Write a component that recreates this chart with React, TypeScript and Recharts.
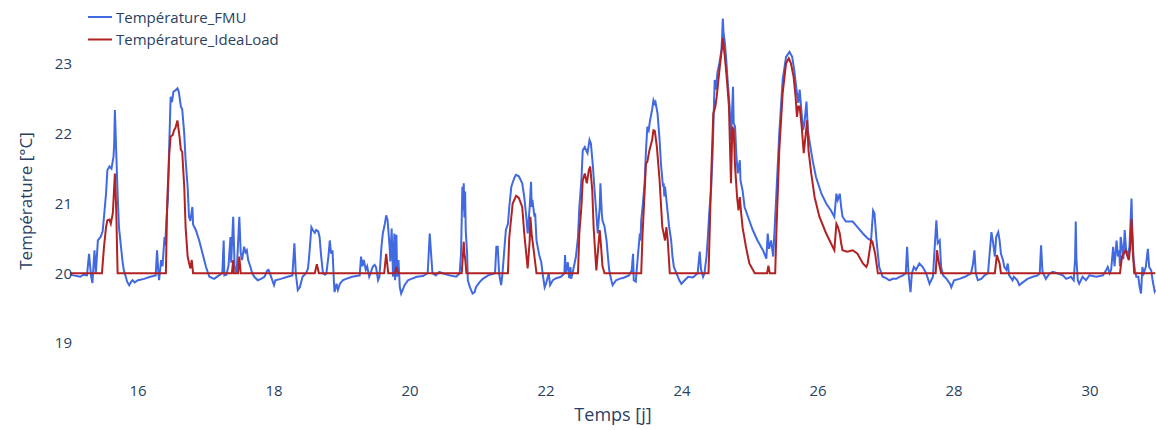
import { LineChart, Line, XAxis, YAxis } from 'recharts';

// Température simulée (FMU) : [jour, °C]
const fmuPoints: [number, number][] = [
  [15.0, 19.98], [15.05, 19.97], [15.1, 19.96], [15.15, 19.95], [15.2, 19.98], [15.25, 19.97], [15.28, 20.28],
  [15.31, 19.96], [15.33, 19.86], [15.36, 20.33], [15.38, 20.0], [15.41, 20.47], [15.45, 20.52], [15.48, 20.6],
  [15.5, 20.81], [15.53, 21.14], [15.55, 21.48], [15.58, 21.53], [15.61, 21.5], [15.64, 21.67], [15.65, 21.86],
  [15.66, 22.34], [15.68, 21.73], [15.7, 21.14], [15.72, 20.66], [15.75, 20.38], [15.77, 20.19], [15.79, 20.05],
  [15.82, 19.95], [15.84, 19.88], [15.87, 19.83], [15.9, 19.88], [15.92, 19.9], [15.95, 19.87], [16.0, 19.9],
  [16.09, 19.92], [16.18, 19.95], [16.26, 19.97], [16.28, 20.33], [16.3, 20.0], [16.31, 19.9], [16.34, 20.19],
  [16.36, 20.1], [16.39, 20.52], [16.4, 20.4], [16.42, 20.81], [16.44, 21.05], [16.46, 21.86], [16.48, 22.53],
  [16.5, 22.45], [16.52, 22.6], [16.55, 22.62], [16.58, 22.65], [16.6, 22.6], [16.63, 22.39], [16.65, 22.35],
  [16.68, 22.0], [16.7, 21.62], [16.73, 21.24], [16.75, 20.81], [16.77, 20.75], [16.8, 20.95], [16.81, 20.7],
  [16.85, 20.62], [16.9, 20.47], [16.95, 20.28], [17.0, 20.09], [17.05, 19.95], [17.12, 19.92], [17.19, 19.97],
  [17.24, 20.0], [17.26, 20.47], [17.27, 19.97], [17.3, 19.98], [17.33, 20.1], [17.36, 20.52], [17.37, 20.15],
  [17.4, 20.81], [17.42, 20.1], [17.45, 20.0], [17.49, 20.81], [17.51, 20.3], [17.53, 20.19], [17.56, 20.38],
  [17.58, 20.3], [17.6, 20.33], [17.62, 20.19], [17.65, 20.1], [17.68, 20.0], [17.71, 19.95], [17.76, 19.9],
  [17.81, 19.92], [17.86, 19.95], [17.9, 20.04], [17.92, 20.05], [17.95, 19.97], [18.0, 19.83], [18.02, 19.9],
  [18.1, 19.92], [18.2, 19.95], [18.27, 19.97], [18.3, 20.43], [18.32, 20.0], [18.35, 19.76], [18.38, 19.8],
  [18.42, 19.95], [18.47, 20.0], [18.5, 20.07], [18.52, 20.28], [18.55, 20.66], [18.57, 20.62], [18.6, 20.58],
  [18.62, 20.62], [18.65, 20.6], [18.67, 20.52], [18.69, 20.28], [18.72, 20.0], [18.75, 19.98], [18.77, 20.0],
  [18.8, 20.24], [18.82, 20.47], [18.84, 20.28], [18.86, 20.33], [18.88, 19.9], [18.89, 19.73], [18.92, 19.85],
  [18.94, 19.76], [18.97, 19.85], [19.01, 19.9], [19.06, 19.92], [19.15, 19.95], [19.26, 19.97], [19.28, 20.24],
  [19.3, 20.1], [19.32, 20.19], [19.35, 20.05], [19.37, 20.1], [19.4, 19.95], [19.42, 20.0], [19.45, 20.09],
  [19.48, 20.12], [19.5, 20.09], [19.53, 19.9], [19.55, 19.95], [19.58, 20.38], [19.6, 20.57], [19.63, 20.71],
  [19.65, 20.83], [19.67, 20.76], [19.7, 20.38], [19.71, 20.17], [19.73, 20.64], [19.75, 19.95], [19.77, 20.57],
  [19.78, 19.9], [19.8, 20.55], [19.81, 19.95], [19.83, 20.19], [19.85, 19.8], [19.87, 19.71], [19.92, 19.83],
  [19.97, 19.9], [20.02, 19.92], [20.1, 19.95], [20.19, 19.96], [20.26, 20.0], [20.29, 20.57], [20.31, 20.28],
  [20.33, 20.0], [20.38, 19.97], [20.43, 20.02], [20.48, 20.0], [20.58, 19.97], [20.68, 19.95], [20.73, 20.0],
  [20.75, 20.28], [20.77, 21.24], [20.78, 20.9], [20.79, 21.29], [20.8, 20.8], [20.81, 21.17], [20.82, 20.6],
  [20.84, 20.28], [20.85, 19.9], [20.88, 19.8], [20.92, 19.71], [20.95, 19.73], [20.97, 19.8], [21.02, 19.87],
  [21.07, 19.92], [21.15, 19.97], [21.25, 20.0], [21.27, 20.38], [21.29, 20.38], [21.31, 20.0], [21.34, 19.83],
  [21.36, 20.0], [21.39, 20.38], [21.41, 20.62], [21.44, 20.71], [21.46, 20.95], [21.49, 21.24], [21.51, 21.3],
  [21.54, 21.38], [21.56, 21.41], [21.6, 21.39], [21.65, 21.29], [21.68, 21.09], [21.71, 20.81], [21.73, 20.57],
  [21.76, 20.95], [21.78, 21.31], [21.79, 20.95], [21.8, 21.05], [21.83, 20.81], [21.84, 20.86], [21.86, 20.47],
  [21.9, 20.26], [21.93, 20.16], [21.95, 20.0], [21.98, 19.8], [22.0, 19.85], [22.04, 20.0], [22.06, 19.83],
  [22.1, 19.9], [22.15, 19.93], [22.22, 19.95], [22.27, 20.0], [22.28, 20.26], [22.29, 20.0], [22.32, 20.16],
  [22.34, 19.93], [22.36, 20.09], [22.37, 19.92], [22.39, 20.0], [22.44, 20.24], [22.47, 20.52], [22.49, 20.95],
  [22.52, 21.33], [22.54, 21.76], [22.57, 21.81], [22.59, 21.76], [22.61, 21.72], [22.64, 21.91], [22.66, 21.86],
  [22.69, 21.53], [22.71, 21.24], [22.74, 20.86], [22.76, 20.57], [22.79, 20.95], [22.8, 21.29], [22.82, 20.86],
  [22.83, 20.76], [22.86, 20.67], [22.89, 20.47], [22.91, 20.24], [22.93, 20.04], [22.96, 19.9], [22.98, 19.83],
  [23.03, 19.9], [23.08, 19.92], [23.15, 19.94], [23.22, 19.97], [23.26, 20.04], [23.28, 20.28], [23.29, 19.9],
  [23.32, 19.88], [23.35, 20.24], [23.38, 20.57], [23.39, 20.47], [23.4, 20.76], [23.42, 20.95], [23.45, 21.29],
  [23.47, 21.76], [23.49, 22.1], [23.51, 22.05], [23.53, 22.19], [23.56, 22.34], [23.58, 22.48], [23.6, 22.43],
  [23.61, 22.45], [23.64, 22.29], [23.67, 21.91], [23.69, 21.57], [23.72, 21.24], [23.73, 21.29], [23.74, 21.1],
  [23.75, 21.24], [23.79, 20.86], [23.81, 20.67], [23.84, 20.47], [23.86, 20.24], [23.88, 20.09], [23.94, 19.95],
  [23.96, 19.9], [23.99, 19.85], [24.04, 19.9], [24.09, 19.95], [24.16, 19.94], [24.23, 20.0], [24.26, 20.31],
  [24.28, 20.05], [24.31, 19.95], [24.33, 20.0], [24.36, 20.24], [24.38, 20.52], [24.4, 20.86], [24.43, 21.24],
  [24.45, 21.72], [24.48, 22.77], [24.5, 22.63], [24.52, 22.87], [24.55, 23.01], [24.58, 23.2], [24.59, 23.4],
  [24.6, 23.65], [24.61, 23.45], [24.63, 23.3], [24.65, 23.06], [24.67, 22.77], [24.7, 22.39], [24.72, 21.91],
  [24.75, 22.67], [24.76, 22.15], [24.78, 22.1], [24.8, 21.67], [24.82, 21.43], [24.85, 21.62], [24.86, 21.33],
  [24.89, 21.19], [24.92, 20.95], [24.97, 20.81], [25.04, 20.62], [25.11, 20.47], [25.19, 20.33], [25.24, 20.21],
  [25.26, 20.57], [25.28, 20.35], [25.31, 20.47], [25.34, 20.24], [25.36, 20.6], [25.39, 21.19], [25.43, 22.0],
  [25.48, 22.77], [25.53, 23.1], [25.58, 23.17], [25.62, 23.1], [25.65, 22.91], [25.69, 22.58], [25.71, 22.44],
  [25.73, 22.63], [25.75, 22.39], [25.78, 22.05], [25.8, 22.15], [25.83, 22.46], [25.85, 22.05], [25.88, 21.86],
  [25.92, 21.62], [25.97, 21.38], [26.05, 21.14], [26.12, 21.0], [26.19, 20.9], [26.24, 20.81], [26.27, 21.14],
  [26.29, 21.05], [26.32, 21.14], [26.34, 20.95], [26.36, 20.81], [26.41, 20.74], [26.51, 20.74], [26.58, 20.66],
  [26.66, 20.57], [26.73, 20.5], [26.78, 20.47], [26.81, 20.9], [26.83, 20.86], [26.86, 20.47], [26.88, 20.28],
  [26.9, 20.09], [26.95, 19.95], [27.0, 19.93], [27.05, 19.9], [27.1, 19.92], [27.15, 19.92], [27.2, 19.95],
  [27.25, 19.97], [27.29, 20.0], [27.31, 20.38], [27.33, 20.0], [27.36, 19.73], [27.38, 20.0], [27.41, 20.09],
  [27.44, 20.05], [27.49, 20.14], [27.54, 20.09], [27.59, 20.0], [27.64, 19.85], [27.69, 19.95], [27.71, 20.28],
  [27.74, 20.76], [27.76, 20.43], [27.79, 20.47], [27.81, 20.09], [27.84, 19.97], [27.89, 19.92], [27.94, 19.85],
  [27.96, 19.8], [28.0, 19.9], [28.08, 19.92], [28.16, 19.95], [28.25, 20.0], [28.28, 20.14], [28.3, 20.33],
  [28.32, 20.0], [28.35, 19.9], [28.4, 19.92], [28.45, 19.97], [28.5, 20.0], [28.52, 20.24], [28.55, 20.59],
  [28.57, 20.47], [28.6, 20.24], [28.62, 20.52], [28.65, 20.59], [28.67, 20.47], [28.69, 20.28], [28.72, 20.19],
  [28.74, 20.09], [28.77, 20.05], [28.79, 20.14], [28.81, 19.97], [28.84, 19.93], [28.86, 19.9], [28.88, 19.95],
  [28.93, 19.9], [28.96, 19.83], [29.01, 19.87], [29.08, 19.92], [29.16, 19.95], [29.23, 19.97], [29.26, 20.0],
  [29.28, 20.4], [29.3, 20.03], [29.35, 19.92], [29.4, 19.99], [29.45, 20.02], [29.52, 20.0], [29.6, 19.97],
  [29.65, 19.92], [29.72, 19.95], [29.76, 19.9], [29.78, 20.2], [29.79, 20.74], [29.8, 20.2], [29.82, 19.9],
  [29.84, 19.85], [29.89, 19.95], [29.94, 19.9], [29.99, 19.97], [30.09, 19.95], [30.19, 19.97], [30.24, 20.05],
  [30.26, 20.09], [30.29, 20.0], [30.31, 20.05], [30.34, 20.38], [30.36, 20.1], [30.39, 20.47], [30.41, 20.24],
  [30.43, 20.33], [30.44, 20.1], [30.45, 20.52], [30.47, 20.38], [30.49, 20.2], [30.51, 20.62], [30.53, 20.33],
  [30.56, 20.28], [30.58, 20.38], [30.61, 21.07], [30.62, 20.67], [30.64, 20.2], [30.66, 20.04], [30.68, 19.95],
  [30.71, 19.95], [30.73, 19.8], [30.75, 19.71], [30.77, 20.09], [30.79, 20.0], [30.82, 20.09], [30.85, 20.35],
  [30.87, 20.09], [30.9, 20.04], [30.92, 19.9], [30.95, 19.74], [30.96, 19.76],
];

// Température IdealLoad : [jour, °C]
const idealPoints: [number, number][] = [
  [15.0, 20.0], [15.47, 20.0], [15.5, 20.38], [15.53, 20.66], [15.55, 20.76], [15.58, 20.77], [15.6, 20.71],
  [15.63, 20.86], [15.65, 21.24], [15.66, 21.43], [15.68, 20.9], [15.7, 20.0], [16.41, 20.0], [16.43, 21.05],
  [16.46, 21.72], [16.48, 21.96], [16.51, 21.98], [16.53, 22.05], [16.55, 22.08], [16.58, 22.19], [16.61, 21.96],
  [16.63, 21.77], [16.65, 21.74], [16.68, 21.24], [16.7, 20.66], [16.73, 20.24], [16.75, 20.15], [16.77, 20.07],
  [16.79, 20.19], [16.81, 20.0], [17.38, 20.0], [17.4, 20.19], [17.41, 20.0], [17.47, 20.0], [17.49, 20.24],
  [17.51, 20.0], [18.6, 20.0], [18.63, 20.13], [18.66, 20.0], [19.62, 20.0], [19.65, 20.28], [19.68, 20.0],
  [19.78, 20.0], [19.8, 20.09], [19.82, 20.0], [20.76, 20.0], [20.78, 20.28], [20.79, 20.45], [20.8, 20.28],
  [20.81, 20.22], [20.83, 20.0], [21.44, 20.0], [21.46, 20.52], [21.49, 20.81], [21.51, 21.0], [21.56, 21.11],
  [21.6, 21.08], [21.65, 20.95], [21.68, 20.57], [21.73, 20.07], [21.76, 20.47], [21.77, 20.81], [21.79, 20.55],
  [21.83, 20.24], [21.86, 20.0], [22.47, 20.0], [22.49, 20.57], [22.52, 20.95], [22.54, 21.33], [22.57, 21.43],
  [22.6, 21.29], [22.63, 21.48], [22.65, 21.53], [22.68, 21.19], [22.7, 20.66], [22.74, 20.04], [22.76, 20.28],
  [22.79, 20.62], [22.81, 20.38], [22.83, 20.1], [22.86, 20.0], [23.4, 20.0], [23.42, 20.57], [23.47, 21.57],
  [23.49, 21.6], [23.52, 21.76], [23.56, 21.91], [23.58, 22.05], [23.6, 22.04], [23.63, 21.81], [23.67, 21.33],
  [23.71, 20.66], [23.73, 20.57], [23.75, 20.47], [23.77, 20.66], [23.79, 20.47], [23.82, 20.0], [24.39, 20.0],
  [24.43, 21.43], [24.46, 22.29], [24.49, 22.39], [24.51, 22.53], [24.55, 22.91], [24.59, 23.25], [24.6, 23.37],
  [24.63, 23.1], [24.66, 22.77], [24.69, 22.39], [24.72, 21.29], [24.74, 22.1], [24.76, 22.05], [24.78, 21.53],
  [24.81, 21.09], [24.83, 20.9], [24.85, 21.09], [24.87, 20.86], [24.89, 20.66], [24.94, 20.38], [24.99, 20.14],
  [25.07, 20.0], [25.25, 20.0], [25.27, 20.11], [25.29, 20.0], [25.37, 20.0], [25.39, 20.66], [25.43, 21.76],
  [25.48, 22.58], [25.53, 23.01], [25.57, 23.08], [25.6, 23.01], [25.64, 22.82], [25.67, 22.53], [25.69, 22.24],
  [25.71, 22.39], [25.73, 22.39], [25.76, 22.1], [25.79, 21.72], [25.81, 21.91], [25.84, 22.19], [25.86, 21.76],
  [25.9, 21.43], [25.95, 21.09], [26.02, 20.81], [26.12, 20.57], [26.19, 20.43], [26.24, 20.33], [26.27, 20.71],
  [26.29, 20.67], [26.32, 20.57], [26.34, 20.43], [26.36, 20.33], [26.43, 20.31], [26.51, 20.33], [26.58, 20.28],
  [26.66, 20.14], [26.71, 20.09], [26.73, 20.14], [26.78, 20.47], [26.8, 20.45], [26.84, 20.28], [26.88, 20.0],
  [27.73, 20.0], [27.75, 20.33], [27.77, 20.19], [27.79, 20.09], [27.81, 20.0], [28.6, 20.0], [28.63, 20.26],
  [28.65, 20.2], [28.67, 20.14], [28.69, 20.0], [30.44, 20.0], [30.47, 20.24], [30.52, 20.33], [30.55, 20.24],
  [30.57, 20.19], [30.59, 20.36], [30.61, 20.78], [30.63, 20.3], [30.65, 20.0], [30.96, 20.0],
];

const xTicks = [16, 18, 20, 22, 24, 26, 28, 30];
const yTicks = [19, 20, 21, 22, 23];

const fmuData = fmuPoints.map(([t, v]) => ({ t, v }));
const idealData = idealPoints.map(([t, v]) => ({ t, v }));

const FONT = '"Open Sans", verdana, arial, sans-serif';
const TEXT = '#2a3f5f';
const BLUE = '#4169e1';
const RED = '#b22222';

const legendItems = [
  { name: 'Température_FMU', color: BLUE },
  { name: 'Température_IdeaLoad', color: RED },
];

// légende en haut à gauche, par-dessus la zone de tracé
const ChartLegend = () => (
  <svg width={300} height={52} style={{ position: 'absolute', left: 0, top: 0, pointerEvents: 'none' }}>
    {legendItems.map((item, i) => (
      <g key={item.name}>
        <line x1={88} x2={112} y1={17 + i * 22.5} y2={17 + i * 22.5} stroke={item.color} strokeWidth={2} />
        <text x={116} y={22.5 + i * 22.5} fontFamily={FONT} fontSize={15} fill={TEXT}>
          {item.name}
        </text>
      </g>
    ))}
  </svg>
);

const YTitle = ({ viewBox }: any) => {
  const cy = viewBox.y + viewBox.height / 2 + 8;
  return (
    <text
      x={25}
      y={cy}
      transform={`rotate(-90 25 ${cy})`}
      textAnchor="middle"
      dominantBaseline="central"
      fontFamily={FONT}
      fontSize={17}
      fill={TEXT}
    >
      Température [°C]
    </text>
  );
};

export default function App() {
  return (
    <div style={{ position: 'absolute', left: 0, top: 0, width: 1156, height: 430, background: '#fff' }}>
      <LineChart width={1156} height={430} margin={{ top: 8, right: 0, bottom: 0, left: 0 }}>
        <XAxis
          dataKey="t"
          type="number"
          domain={[15, 30.97]}
          ticks={xTicks}
          allowDataOverflow
          axisLine={false}
          tickLine={false}
          tickSize={0}
          tickMargin={7}
          height={52}
          tick={{ fill: TEXT, fontSize: 15, fontFamily: FONT }}
          label={{
            value: 'Temps [j]',
            position: 'insideBottom',
            offset: 9,
            fill: TEXT,
            fontSize: 18,
            fontFamily: FONT,
          }}
        />
        <YAxis
          type="number"
          domain={[18.5, 23.8]}
          ticks={yTicks}
          allowDataOverflow
          axisLine={false}
          tickLine={false}
          tickSize={0}
          tickMargin={-2}
          width={70}
          tick={{ fill: TEXT, fontSize: 15, fontFamily: FONT }}
          label={<YTitle />}
        />
        <Line
          data={fmuData}
          dataKey="v"
          name="Température_FMU"
          type="linear"
          stroke={BLUE}
          strokeWidth={2}
          dot={false}
          activeDot={false}
          isAnimationActive={false}
        />
        <Line
          data={idealData}
          dataKey="v"
          name="Température_IdeaLoad"
          type="linear"
          stroke={RED}
          strokeWidth={2}
          dot={false}
          activeDot={false}
          isAnimationActive={false}
        />
      </LineChart>
      <ChartLegend />
    </div>
  );
}
